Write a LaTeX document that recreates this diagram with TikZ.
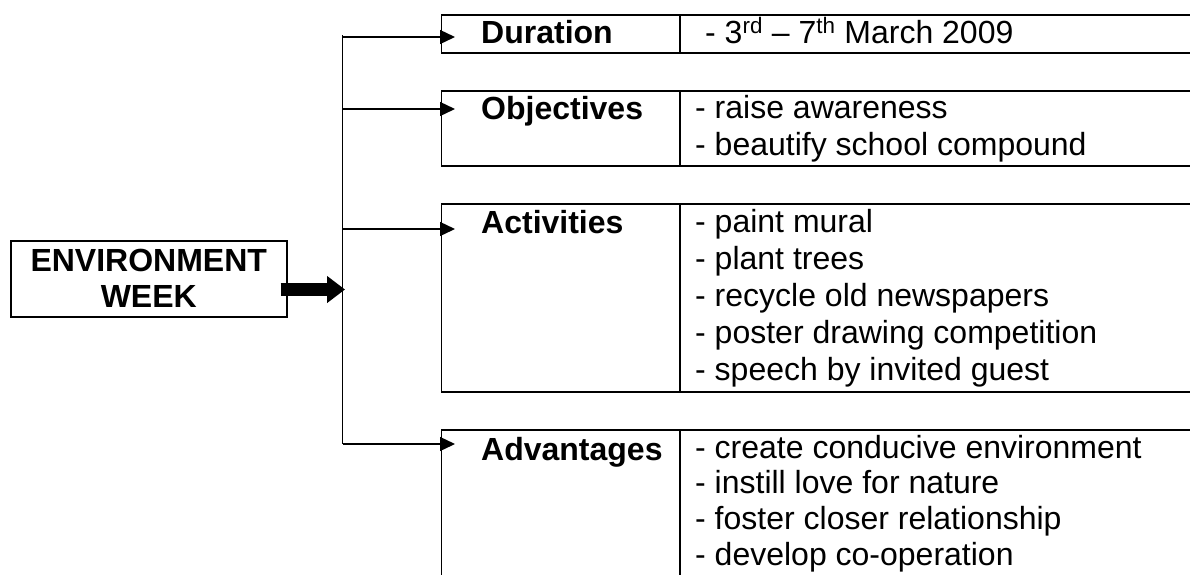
\documentclass[tikz,border=0pt]{standalone}
\usepackage{fontspec}
\setmainfont{Liberation Sans}
\usetikzlibrary{arrows.meta, positioning}

\tikzset{
  box/.style={draw, line width=1.5pt, rectangle, anchor=north west, minimum width=820pt, inner sep=0pt},
  head/.style={font=\fontsize{32}{37}\selectfont\bfseries, anchor=base west, inner sep=0pt},
  items/.style={font=\fontsize{32}{37}\selectfont, align=left, anchor=base west, inner sep=0pt},
  branch/.style={line width=1.3pt, -{Triangle[length=15pt,width=14pt]}},
  trunk/.style={line width=1.2pt}
}

\begin{document}
\begin{tikzpicture}[x=1pt, y=-1pt]
  \useasboundingbox (0,0) rectangle (1190,574);
  \clip (0,0) rectangle (1190,574);

  % main box
  \node[draw, line width=1.5pt, anchor=north west, minimum width=276pt, minimum height=76pt,
    inner sep=0pt, align=center, font=\fontsize{32}{36}\selectfont\bfseries] (env) at (10,240) {ENVIRONMENT\\WEEK};

  % branch boxes
  \node[box, minimum height=38pt] (dur) at (440.5,14) {};
  \node[box, minimum height=75pt] (obj) at (440.5,90) {};
  \node[box, minimum height=188pt] (act) at (440.5,203) {};
  \node[box, minimum height=200pt] (adv) at (440.5,429) {};

  \draw[line width=1.5pt] (dur.north -| 680,0) -- (dur.south -| 680,0);
  \draw[line width=1.5pt] (obj.north -| 680,0) -- (obj.south -| 680,0);
  \draw[line width=1.5pt] (act.north -| 680,0) -- (act.south -| 680,0);
  \draw[line width=1.5pt] (adv.north -| 680,0) -- (adv.south -| 680,0);

  \node[head] (durlbl) at (481,43) {Duration};
  \node[head] (objlbl) at (481,119) {Objectives};
  \node[head] (actlbl) at (481,233) {Activities};
  \node[head] (advlbl) at (481,460) {Advantages};

  % base of a list = baseline of its last line
  \node[items] (durtxt) at (705,43) {- 3\textsuperscript{rd} – 7\textsuperscript{th} March 2009};
  \node[items] (objtxt) at (695,155) {- raise awareness\\- beautify school compound};
  \node[items] (acttxt) at (695,380) {- paint mural\\- plant trees\\- recycle old newspapers\\- poster drawing competition\\- speech by invited guest};
  \node[items, font=\fontsize{32}{35.6}\selectfont] (advtxt) at (695,565) {- create conducive environment\\- instill love for nature\\- foster closer relationship\\- develop co-operation};

  % connectors
  \coordinate (top) at (342.5,35);
  \coordinate (hub) at (345,289.5);
  \coordinate (durtip) at (455,37);
  \coordinate (objtip) at (455,109);
  \coordinate (acttip) at (455,229);
  \coordinate (advtip) at (455,444);

  \draw[trunk] (top) -- (top |- advtip);
  \draw[branch] (top |- durtip) -- (durtip);
  \draw[branch] (top |- objtip) -- (objtip);
  \draw[branch] (top |- acttip) -- (acttip);
  \draw[branch] (top |- advtip) -- (advtip);

  \draw[line width=13pt, -{Triangle[length=18pt,width=26pt]}] ([xshift=-7pt]env.east |- hub) -- (hub);
\end{tikzpicture}
\end{document}
